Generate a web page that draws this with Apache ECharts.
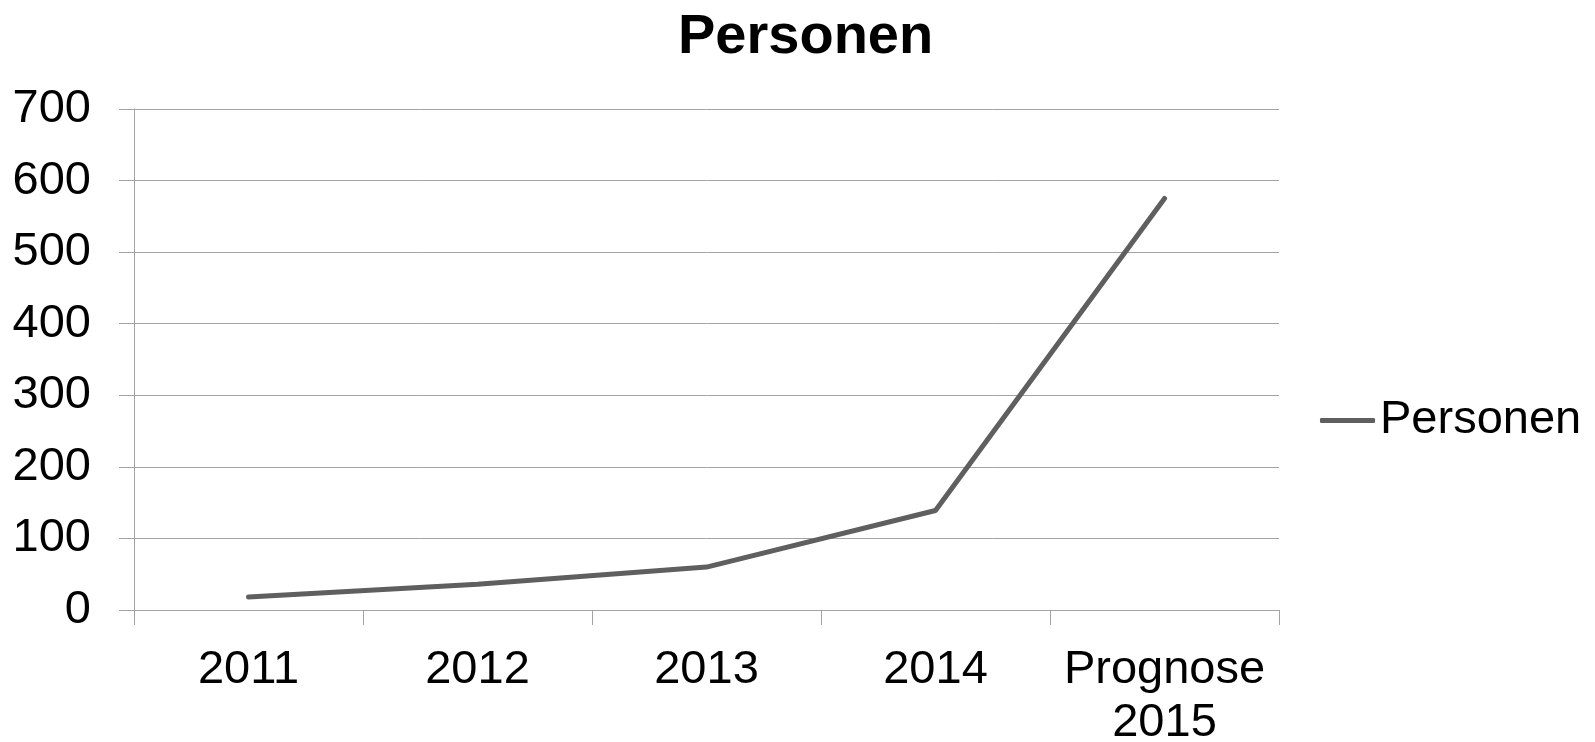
<!DOCTYPE html>
<html>
<head>
<meta charset="utf-8">
<script src="https://cdn.jsdelivr.net/npm/echarts@6/dist/echarts.min.js"></script>
<style>
  html, body { margin: 0; padding: 0; background: #fff; }
  #main { width: 1595px; height: 742px; }
</style>
</head>
<body>
<div id="main"></div>
<script>
// Daten
var categories = ['2011', '2012', '2013', '2014', 'Prognose\n2015'];
var personen = [18, 36, 60, 139, 575];
var yTicks = { min: 0, max: 700, interval: 100 };

var font = "'Liberation Sans', Arial, sans-serif";
var gridColor = '#a3a3a3';

echarts.init(document.getElementById('main')).setOption({
	animation: false,
	title: {
		text: 'Personen',
		left: 673,
		top: 5,
		textStyle: { fontFamily: font, fontSize: 56, fontWeight: 'bold', color: '#000' }
	},
	legend: {
		data: [{ name: 'Personen', icon: 'roundRect' }],
		orient: 'vertical',
		left: 1315,
		top: 392,
		itemWidth: 55,
		itemHeight: 5,
		itemStyle: { color: '#5f5f5f' },
		textStyle: { fontFamily: font, fontSize: 47, color: '#000' }
	},
	grid: { left: 134, right: 316, top: 109, bottom: 132, containLabel: false, outerBoundsMode: 'none' },
	xAxis: {
		type: 'category',
		boundaryGap: true,
		data: categories,
		axisLine: { show: true, lineStyle: { color: gridColor, width: 1 } },
		axisTick: { show: true, length: 15, lineStyle: { color: gridColor } },
		axisLabel: { fontFamily: font, fontSize: 47, color: '#000', margin: 34, lineHeight: 53, interval: 0 }
	},
	yAxis: {
		type: 'value',
		min: yTicks.min,
		max: yTicks.max,
		interval: yTicks.interval,
		axisLine: { show: true, lineStyle: { color: gridColor, width: 1 } },
		axisTick: { show: true, length: 15, lineStyle: { color: gridColor } },
		splitLine: { show: true, lineStyle: { color: gridColor, width: 1 } },
		axisLabel: { fontFamily: font, fontSize: 47, color: '#000', margin: 43 }
	},
	series: [{
		type: 'line',
		name: 'Personen',
		data: personen,
		symbol: 'none',
		smooth: false,
		color: '#5f5f5f',
		lineStyle: { color: '#5f5f5f', width: 5, cap: 'round' }
	}]
});
</script>
</body>
</html>
